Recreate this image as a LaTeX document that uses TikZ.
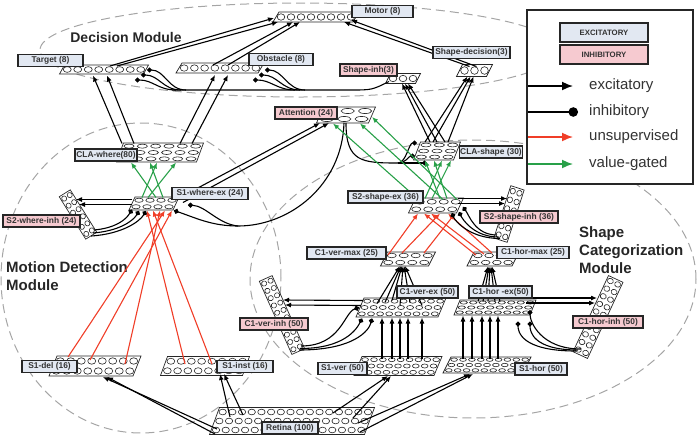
\documentclass[tikz,border=0pt]{standalone}
\usepackage{fontspec}
\setmainfont{Liberation Sans}
\usetikzlibrary{arrows.meta,calc}
\definecolor{excfill}{RGB}{226,232,242}
\definecolor{inhfill}{RGB}{246,202,208}
\definecolor{redc}{RGB}{240,62,40}
\definecolor{greenc}{RGB}{40,160,72}
\definecolor{ringc}{RGB}{165,165,165}
\tikzset{
 layerbox/.style={draw=black!85, fill=white, line width=0.7pt},
 cell/.style={draw=black!85, line width=0.6pt},
 lab/.style={draw=black!85, line width=1.1pt, fill=excfill, text=black!80, font=\bfseries\fontsize{8.4}{9}\selectfont, inner sep=1pt, minimum height=12pt},
 labi/.style={lab, fill=inhfill},
 exc/.style={draw=black, line width=1.1pt, -{Latex[length=6pt,width=5pt]}},
 inh/.style={draw=black, line width=1.1pt, -{Circle[length=5pt]}},
 wire/.style={draw=black, line width=1.1pt},
 uns/.style={draw=redc, line width=1.1pt, -{Latex[length=6pt,width=5pt]}},
 val/.style={draw=greenc, line width=1.1pt, -{Latex[length=6pt,width=5pt]}},
 ring/.style={draw=ringc, line width=1pt, dash pattern=on 9pt off 5pt},
 modtitle/.style={font=\bfseries\fontsize{14}{18}\selectfont, text=black!85, inner sep=0pt},
 legtxt/.style={anchor=west, font=\fontsize{15}{18}\selectfont, text=black!80, inner sep=0pt},
}
% name, cx, cy, w, h, slant, cols, rows, rotation
\newcommand{\nlayer}[9]{%
  \begin{scope}[rotate around={#9:(#2,#3)}]
    \coordinate (#1) at (#2,#3);
    \draw[layerbox] ({#2-#4/2-#6/2},{#3+#5/2}) -- ({#2-#4/2+#6/2},{#3-#5/2})
      -- ({#2+#4/2+#6/2},{#3-#5/2}) -- ({#2+#4/2-#6/2},{#3+#5/2}) -- cycle;
    \foreach \i in {1,...,#7}{%
      \foreach \j in {1,...,#8}{%
        \pgfmathsetmacro\cellx{#2-#4/2+(\i-0.5)*#4/#7+#6*(0.5-(\j-0.5)/#8)}%
        \pgfmathsetmacro\celly{#3-#5/2+(\j-0.5)*#5/#8}%
        \pgfmathsetmacro\cellrx{0.38*#4/#7}%
        \pgfmathsetmacro\cellry{0.32*#5/#8}%
        \draw[cell] (\cellx,\celly) ellipse [x radius=\cellrx pt, y radius=\cellry pt];
      }}
  \end{scope}}
\begin{document}
\begin{tikzpicture}[x=1pt,y=-1pt]
\useasboundingbox (0,0) rectangle (697,440);

% module rings
\draw[ring] (300,50) ellipse [x radius=260pt, y radius=47pt];
\draw[ring] (141,278) ellipse [x radius=140pt, y radius=155pt];
\draw[ring] (473,279) ellipse [x radius=223pt, y radius=139pt];

% module titles
\node[modtitle] (tDec) at (126,37) {Decision Module};
\node[modtitle, font=\bfseries\fontsize{15}{18}\selectfont, align=left, anchor=west] (tMot) at (6,276) {Motion Detection\\Module};
\node[modtitle, font=\bfseries\fontsize{15}{18}\selectfont, align=left, anchor=west] (tShp) at (579,250) {Shape\\Categorization\\Module};

% layers
\nlayer{mot}{316}{17}{80}{10}{6}{8}{1}{0}
\nlayer{tgt}{104}{69.5}{84}{9}{5}{8}{1}{0}
\nlayer{obs}{220}{68}{82}{10}{6}{8}{1}{0}
\nlayer{sdec}{474.5}{70.5}{30}{12}{6}{3}{1}{0}
\nlayer{sinh}{403}{78.5}{30}{10}{5}{3}{1}{0}
\nlayer{att}{346}{115}{52}{16}{7}{3}{2}{0}
\nlayer{claw}{160}{152.5}{80}{19}{7}{6}{3}{0}
\nlayer{s1wex}{154}{203.5}{44}{13}{6}{4}{2}{0}
\nlayer{s2winh}{78}{214.5}{13}{50}{0}{2}{6}{32}
\nlayer{clas}{437}{151}{40}{18}{7}{3}{3}{0}
\nlayer{s2sex}{436}{205.5}{48}{15}{7}{4}{2}{0}
\nlayer{s2sinh}{509}{214}{14}{55}{0}{2}{6}{-18}
\nlayer{c1vmax}{408}{259}{48}{14}{7}{4}{2}{0}
\nlayer{c1hmax}{493}{259}{45}{14}{7}{4}{2}{0}
\nlayer{c1vex}{401}{307.5}{82}{19}{8}{9}{3}{0}
\nlayer{c1hex}{495}{307.5}{76}{15}{6}{8}{3}{0}
\nlayer{c1vinh}{282}{315}{14}{80}{0}{2}{10}{24}
\nlayer{c1hinh}{598}{317}{16}{84}{0}{2}{10}{-25}
\nlayer{s1v}{398}{366}{80}{19}{8}{9}{3}{0}
\nlayer{s1h}{487}{365}{80}{16}{8}{9}{3}{0}
\nlayer{sd}{95}{366}{84}{20}{8}{8}{2}{0}
\nlayer{si}{205}{366}{82}{19}{7}{8}{2}{0}
\nlayer{ret}{292}{421}{155}{27}{10}{16}{3}{0}

% ---------- Decision module ----------
\draw[exc] ($(tgt)+(6,-3.5)$) -- ($(mot)+(-42,1)$);
\draw[exc] ($(tgt)+(13,-3.5)$) -- ($(mot)+(-38,5)$);
\draw[exc] ($(obs)+(-7,-3)$) -- ($(mot)+(-23,5)$);
\draw[exc] ($(obs)+(8,-3)$) -- ($(mot)+(-16,5)$);
\draw[exc] ($(sdec)+(-5,-4)$) -- ($(mot)+(28,5)$);
\draw[exc] ($(sdec)+(2,-4)$) -- ($(mot)+(35,3)$);

\coordinate (busA) at (350,90);
\coordinate (busB) at (172,90);
\draw[wire] ($(sinh)+(-14,3)$) .. controls (372,90) .. (busA) -- (busB);
\coordinate (tb1) at (186,90);
\coordinate (tb2) at (181,90);
\coordinate (tb3) at (176,90);
\draw[inh] (tb1) .. controls +(-18,0) and +(18,0) .. ($(tgt)+(43,0.5)$);
\draw[inh] (tb2) .. controls +(-18,0) and +(18,0) .. ($(tgt)+(37,5.5)$);
\draw[inh] (tb3) .. controls +(-18,0) and +(18,0) .. ($(tgt)+(31,10.5)$);
\coordinate (ob1) at (305,90);
\coordinate (ob2) at (300,90);
\coordinate (ob3) at (295,90);
\draw[inh] (ob1) .. controls +(-18,0) and +(18,0) .. ($(obs)+(45,2)$);
\draw[inh] (ob2) .. controls +(-18,0) and +(18,0) .. ($(obs)+(39,7)$);
\draw[inh] (ob3) .. controls +(-18,0) and +(18,0) .. ($(obs)+(33,12)$);

\draw[exc] ($(clas)+(-7,-9)$) -- ($(sinh)+(-1,5)$);
\draw[exc] ($(clas)+(0,-9)$) -- ($(sinh)+(2,5)$);
\draw[exc] ($(clas)+(8,-9)$) -- ($(sinh)+(5,5)$);
\draw[exc] ($(clas)+(-12,-9)$) -- ($(sdec)+(-7,6)$);
\draw[exc] ($(clas)+(-4,-9)$) -- ($(sdec)+(-4,6)$);
\draw[exc] ($(clas)+(11,-9)$) -- ($(sdec)+(-1,6)$);

\draw[exc] ($(claw)+(-38,-9)$) -- ($(tgt)+(-11,6)$);
\draw[exc] ($(claw)+(-26,-9)$) -- ($(tgt)+(3,6)$);
\draw[exc] ($(claw)+(20,-9)$) -- ($(obs)+(-5,7)$);
\draw[exc] ($(claw)+(32,-9)$) -- ($(obs)+(8,7)$);

% ---------- Motion module ----------
\draw[val] ($(s1wex)+(-12,-6)$) -- ($(claw)+(-3,10)$);
\draw[val] ($(s1wex)+(-6,-6)$) -- ($(claw)+(16,10)$);
\draw[val] ($(s1wex)+(2,-6)$) -- ($(claw)+(-29,10)$);
\draw[val] ($(s1wex)+(9,-6)$) -- ($(claw)+(-10,10)$);

\draw[exc] ($(s1wex)+(-22,-4)$) -- ($(s2winh)+(-2,-15)$);
\draw[exc] ($(s1wex)+(-22,1)$) -- ($(s2winh)+(1,-10)$);
\draw[inh] ($(s2winh)+(16,15.5)$) .. controls +(22,-2) and +(-6,10) .. ($(s1wex)+(-22,6)$);
\draw[inh] ($(s2winh)+(15,18.5)$) .. controls +(26,-2) and +(-6,10) .. ($(s1wex)+(-15,7.5)$);
\draw[inh] ($(s2winh)+(13,21.5)$) .. controls +(32,-2) and +(-6,10) .. ($(s1wex)+(-8,7.5)$);

\draw[exc] ($(s1wex)+(24,-5)$) -- ($(att)+(-26,8)$);
\draw[exc] ($(s1wex)+(29,-1)$) -- ($(att)+(-17,8)$);

\coordinate (ab) at (238,226);
\draw[wire] ($(att)+(-2,8)$) .. controls (342,185) and (290,226) .. (ab);
\draw[inh] (ab) .. controls (212,226) and (196,218) .. ($(s1wex)+(20,7)$);
\draw[inh] (ab) .. controls (218,224) and (206,206) .. ($(s1wex)+(34,1.5)$);

\coordinate (cb) at (398,163);
\draw[wire] ($(att)+(0,8)$) .. controls (346,162) and (362,163) .. (cb);
\draw[inh] (cb) .. controls +(8,0) and +(-8,0) .. ($(clas)+(-20,-8)$);
\draw[inh] (cb) .. controls +(8,0) and +(-6,0) .. ($(clas)+(-22,5)$);
\draw[inh] (cb) -- ($(clas)+(-10,12)$);

\draw[uns] ($(sd)+(-27,-9)$) -- ($(s1wex)+(11,7)$);
\draw[uns] ($(sd)+(-5,-6)$) -- ($(s1wex)+(18,7)$);
\draw[uns] ($(sd)+(30,-2)$) -- ($(s1wex)+(6,7)$);
\draw[uns] ($(si)+(-20,-2)$) -- ($(s1wex)+(-7,7)$);
\draw[uns] ($(si)+(7,-2)$) -- ($(s1wex)+(-1,7)$);

\draw[exc] ($(ret)+(-75,8)$) -- ($(sd)+(8,11)$);
\draw[exc] ($(ret)+(-77,13)$) -- ($(sd)+(12,11)$);
\draw[exc] ($(ret)+(-62,-4)$) -- ($(si)+(15,8)$);
\draw[exc] ($(ret)+(-49,-6)$) -- ($(si)+(19,8)$);

% ---------- Shape module ----------
\draw[exc] ($(ret)+(41,-8)$) -- ($(s1v)+(-10,10)$);
\draw[exc] ($(ret)+(61,-3)$) -- ($(s1v)+(-7,10)$);
\draw[exc] ($(ret)+(66,2)$) -- ($(s1h)+(-17,9)$);
\draw[exc] ($(ret)+(68,11)$) -- ($(s1h)+(-14,9)$);

\foreach \da/\db in {-16/-19,-6/-9,2/-1,10/7,24/21}
  \draw[exc] ($(s1v)+(\da,-7)$) -- ($(c1vex)+(\db,10)$);
\foreach \da/\db in {-24/-32,-15/-23,-5/-13,3/-5,11/3}
  \draw[exc] ($(s1h)+(\da,-6)$) -- ($(c1hex)+(\db,8)$);

\foreach \da/\db/\dc in {-24/-4/-8,-16/-5/-7,-9/-7/-6,-1/-2/-5,9/-5/-4,21/-2/-3}
  \draw[exc] ($(c1vex)+(\da,\db)$) -- ($(c1vmax)+(\dc,7)$);
\foreach \da/\dc in {-17/-5,-12/-4,-7/-3,0/-2,5/-1}
  \draw[exc] ($(c1hex)+(\da,-6)$) -- ($(c1hmax)+(\dc,7.5)$);

\draw[exc] ($(c1vex)+(-38,-7)$) -- ($(c1vinh)+(1,-15)$);
\draw[exc] ($(c1vex)+(-40,-2)$) -- ($(c1vinh)+(3,-10)$);
\draw[inh] ($(c1vinh)+(19,31)$) .. controls +(40,0) and +(-15,5) .. ($(c1vex)+(-42,0)$);
\draw[inh] ($(c1vinh)+(18,33.5)$) .. controls +(45,0) and +(-5,10) .. ($(c1vex)+(-39,11)$);
\draw[inh] ($(c1vinh)+(17,35)$) .. controls +(55,0) and +(-3,12) .. ($(c1vex)+(-29,11)$);

\draw[exc] ($(c1hex)+(33,-9.5)$) -- ($(c1hinh)+(-1,-19)$);
\draw[exc] ($(c1hex)+(31,-4.5)$) -- ($(c1hinh)+(-3,-14)$);
\draw[inh] ($(c1hinh)+(-17,32)$) .. controls +(-40,0) and +(0,12) .. ($(c1hex)+(35,2.5)$);
\draw[inh] ($(c1hinh)+(-20,33)$) .. controls +(-45,0) and +(0,10) .. ($(c1hex)+(35,14)$);
\draw[inh] ($(c1hinh)+(-22,34)$) .. controls +(-55,0) and +(0,10) .. ($(c1hex)+(23,14)$);

\draw[uns] ($(c1vmax)+(-20,-4)$) -- ($(s2sex)+(-18,8)$);
\draw[uns] ($(c1vmax)+(-6,-6)$) -- ($(s2sex)+(4,8)$);
\draw[uns] ($(c1vmax)+(16,-6)$) -- ($(s2sex)+(19,8)$);
\draw[uns] ($(c1hmax)+(-17,-4)$) -- ($(s2sex)+(-12,8)$);
\draw[uns] ($(c1hmax)+(-9,-5)$) -- ($(s2sex)+(-5,8)$);
\draw[uns] ($(c1hmax)+(-1,-6)$) -- ($(s2sex)+(12,8)$);

\draw[exc] ($(s2sex)+(22,-7)$) -- ($(s2sinh)+(-2,-15.5)$);
\draw[exc] ($(s2sex)+(22,-2)$) -- ($(s2sinh)+(-4,-10.5)$);
\draw[inh] ($(s2sinh)+(-12,21)$) .. controls +(-22,0) and +(6,8) .. ($(s2sex)+(27,1.5)$);
\draw[inh] ($(s2sinh)+(-10.5,23)$) .. controls +(-24,0) and +(4,8) .. ($(s2sex)+(23,6.5)$);
\draw[inh] ($(s2sinh)+(-9,24.5)$) .. controls +(-30,0) and +(3,8) .. ($(s2sex)+(16,7.5)$);

\draw[val] ($(s2sex)+(-11,-7)$) -- ($(clas)+(5,9.5)$);
\draw[val] ($(s2sex)+(-4,-7)$) -- ($(clas)+(14,9.5)$);
\draw[val] ($(s2sex)+(4,-7)$) -- ($(clas)+(-12,9.5)$);
\draw[val] ($(s2sex)+(11,-7)$) -- ($(clas)+(-3,9.5)$);
\draw[val] ($(s2sex)+(-13,-2)$) -- ($(att)+(-13,8.5)$);
\draw[val] ($(s2sex)+(7,-6)$) -- ($(att)+(14,8.5)$);
\draw[val] ($(s2sex)+(21,-6)$) -- ($(att)+(26,2)$);

% ---------- labels ----------
\node[lab, minimum width=61pt] (Lmot) at (382.5,11.5) {Motor (8)};
\node[lab, minimum width=65pt] (Ltgt) at (50.5,60.5) {Target (8)};
\node[lab, minimum width=64pt] (Lobs) at (281,59.5) {Obstacle (8)};
\node[lab, minimum width=77pt] (Lsdec) at (471.5,52.5) {Shape-decision(3)};
\node[labi, minimum width=57pt] (Lsinh) at (368.5,70) {Shape-inh(3)};
\node[labi, minimum width=62pt] (Latt) at (306,113) {Attention (24)};
\node[lab, minimum width=62pt] (Lclaw) at (106,155) {CLA-where(80)};
\node[lab, minimum width=76pt] (Ls1wex) at (210,193.5) {S1-where-ex (24)};
\node[labi, minimum width=77pt] (Ls2winh) at (41.5,221) {S2-where-inh (24)};
\node[lab, minimum width=62pt] (Lclas) at (491,152) {CLA-shape (30)};
\node[lab, minimum width=75pt] (Ls2sex) at (385.5,197) {S2-shape-ex (36)};
\node[labi, minimum width=78pt] (Ls2sinh) at (519,217) {S2-shape-inh (36)};
\node[lab, minimum width=79pt] (Lc1vmax) at (346.5,253) {C1-ver-max (25)};
\node[lab, minimum width=72pt] (Lc1hmax) at (533,252.5) {C1-hor-max (25)};
\node[lab, minimum width=61pt] (Lc1vex) at (427.5,292) {C1-ver-ex (50)};
\node[lab, minimum width=63pt] (Lc1hex) at (500.5,292) {C1-hor -ex(50)};
\node[labi, minimum width=68pt] (Lc1vinh) at (274,324) {C1-ver-inh (50)};
\node[labi, minimum width=70pt] (Lc1hinh) at (608,322) {C1-hor-inh (50)};
\node[lab, minimum width=49pt] (Ls1v) at (342.5,368.5) {S1-ver (50)};
\node[lab, minimum width=52pt] (Ls1h) at (541,369) {S1-hor (50)};
\node[lab, minimum width=55pt] (Lsd) at (49.5,366.5) {S1-del (16)};
\node[lab, minimum width=56pt] (Lsi) at (245,366.5) {S1-inst (16)};
\node[lab, minimum width=56pt] (Lret) at (290,428) {Retina (100)};

% ---------- legend ----------
\draw[line width=1.2pt, draw=black!85, fill=white] (527,10) rectangle (693,184);
\node[lab, line width=1.4pt, minimum width=88pt, minimum height=19pt, font=\bfseries\fontsize{7.8}{9}\selectfont] (legE) at (604,32.5) {EXCITATORY};
\node[labi, line width=1.4pt, minimum width=88pt, minimum height=19pt, font=\bfseries\fontsize{7.8}{9}\selectfont] (legI) at (604,54.5) {INHIBITORY};
\coordinate (lx1) at (528,86);  \coordinate (lx2) at (573,86);
\coordinate (li1) at (528,112); \coordinate (li2) at (578,112);
\coordinate (lu1) at (528,137); \coordinate (lu2) at (573,137);
\coordinate (lv1) at (528,164); \coordinate (lv2) at (573,164);
\draw[line width=1.6pt, -{Latex[length=11pt,width=9pt]}] (lx1) -- (lx2);
\draw[line width=1.6pt, -{Circle[length=9.5pt]}] (li1) -- (li2);
\draw[draw=redc, line width=1.6pt, -{Latex[length=11pt,width=9pt]}] (lu1) -- (lu2);
\draw[draw=greenc, line width=1.6pt, -{Latex[length=11pt,width=9pt]}] (lv1) -- (lv2);
\node[legtxt] (lt1) at (589,86) {excitatory};
\node[legtxt] (lt2) at (589,112) {inhibitory};
\node[legtxt] (lt3) at (589,137) {unsupervised};
\node[legtxt] (lt4) at (589,164) {value-gated};
\end{tikzpicture}
\end{document}
